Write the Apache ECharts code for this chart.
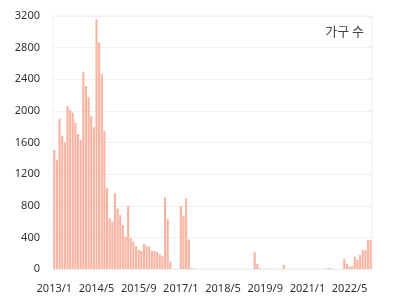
<!DOCTYPE html>
<html><head><meta charset="utf-8">
<script src="https://cdn.jsdelivr.net/npm/echarts@6/dist/echarts.min.js"></script>
<style>html,body{margin:0;padding:0;background:#fff}#c{width:397px;height:301px}</style>
</head><body><div id="c"></div>
<script>
// categories: monthly 2013/1 .. 2023/1
var startYear = 2013, monthCount = 121;
var categories = [];
for (var i = 0; i < monthCount; i++) {
  categories.push((startYear + Math.floor(i / 12)) + '/' + (i % 12 + 1));
}
var seriesName = '가구 수';
var households = [
  1505,1380,1900,1683,1600,2062,2011,1977,1850,1708,1632,2496,
  2315,2172,1935,1792,3158,2863,2467,1746,1020,641,599,957,
  767,683,556,409,797,388,346,291,240,228,316,291,
  282,228,228,215,186,164,907,628,93,0,0,0,
  797,670,894,375,15,5,0,0,0,0,0,0,
  0,0,0,0,0,0,0,0,0,0,0,0,
  0,0,0,0,211,63,10,0,0,5,5,0,
  0,0,0,50,0,0,0,0,0,0,0,0,
  0,0,0,0,0,0,0,10,10,10,0,0,
  0,0,126,63,30,38,156,114,177,240,240,367,
  367
];
var yTicks = {min: 0, max: 3200, interval: 400};

var chart = echarts.init(document.getElementById('c'), null, {renderer: 'canvas'});
chart.setOption({
  animation: false,
  title: {
    text: seriesName, right: 28, top: 20,
    textStyle: {fontSize: 13, fontWeight: 'normal', color: '#444', fontFamily: 'Noto Sans CJK KR'}
  },
  grid: {left: 53, right: 25, top: 16, bottom: 32, show: true, borderColor: '#f0f0f0', borderWidth: 1},
  xAxis: {
    type: 'category', data: categories,
    axisLine: {show: true, lineStyle: {color: '#eeeeee'}},
    axisTick: {show: false},
    axisLabel: {interval: 15, fontSize: 11, color: '#333', margin: 14, fontFamily: 'Noto Sans'}
  },
  yAxis: {
    type: 'value', min: yTicks.min, max: yTicks.max, interval: yTicks.interval,
    axisLine: {show: false}, axisTick: {show: false},
    axisLabel: {fontSize: 11, color: '#333', margin: 13, fontFamily: 'Noto Sans',
      formatter: function (v) { return String(v); }},
    splitLine: {lineStyle: {color: '#efefef'}}
  },
  series: [{
    name: seriesName, type: 'bar', data: households,
    itemStyle: {color: '#fbb3a1'},
    barCategoryGap: '20%'
  }]
});
</script></body></html>
